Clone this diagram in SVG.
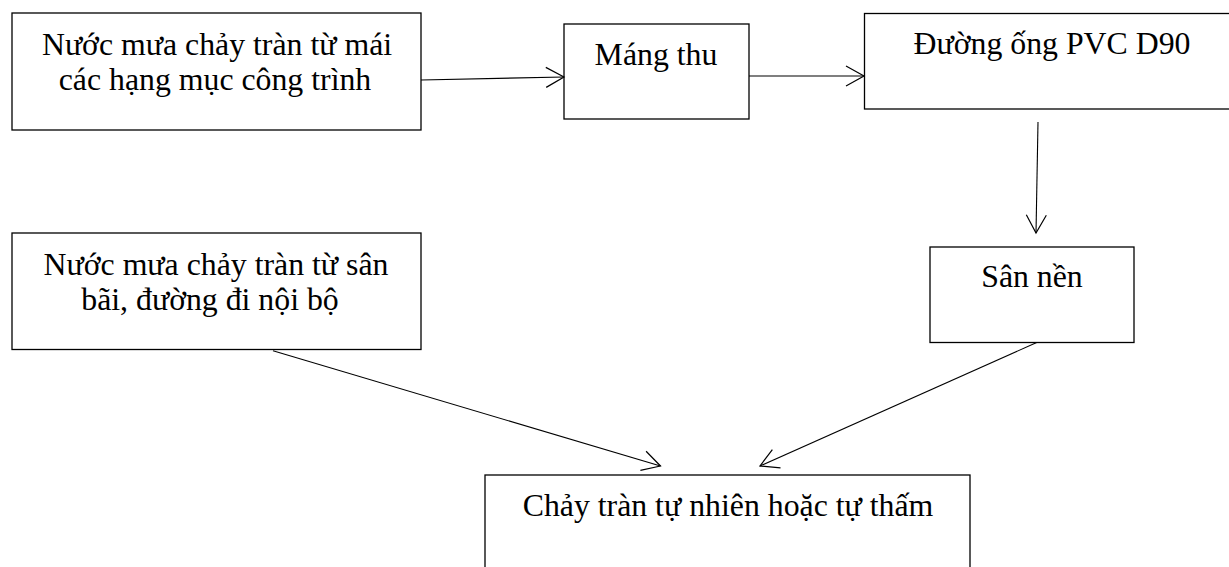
<svg xmlns="http://www.w3.org/2000/svg" width="1229" height="567" viewBox="0 0 1229 567">
<style>
.box{fill:#fff;stroke:#000;stroke-width:1.3}
.lbl{font-family:"Liberation Serif","Times New Roman",serif;font-size:31.8px;fill:#000;text-anchor:middle}
.con{stroke:#000;stroke-width:1.1;fill:none;marker-end:url(#arr)}
</style>
<defs>
<marker id="arr" markerUnits="userSpaceOnUse" markerWidth="24" markerHeight="24" viewBox="-20 -12 22 24" refX="0" refY="0" orient="auto">
<path d="M-18,-10 L0,0 L-18,10" fill="none" stroke="#000" stroke-width="1.2"/>
</marker>
</defs>
<rect width="1229" height="567" fill="#fff"/>
<g id="node-mai">
<rect class="box" x="12" y="13" width="409" height="117"/>
<text class="lbl" x="217" y="54.5">Nước mưa chảy tràn từ mái</text>
<text class="lbl" x="215" y="89.5">các hạng mục công trình</text>
</g>
<g id="node-mang">
<rect class="box" x="564" y="24" width="185" height="95"/>
<text class="lbl" x="656" y="65">Máng thu</text>
</g>
<g id="node-ong">
<rect class="box" x="864.5" y="13.5" width="370" height="95.5"/>
<text class="lbl" x="1052" y="54">Đường ống PVC D90</text>
</g>
<g id="node-san">
<rect class="box" x="930" y="247" width="204" height="95.5"/>
<text class="lbl" x="1032" y="286.5">Sân nền</text>
</g>
<g id="node-sanbai">
<rect class="box" x="12" y="233" width="409" height="116.5"/>
<text class="lbl" x="216" y="275">Nước mưa chảy tràn từ sân</text>
<text class="lbl" x="210" y="309.5">bãi, đường đi nội bộ</text>
</g>
<g id="node-tham">
<rect class="box" x="485" y="475" width="485" height="110"/>
<text class="lbl" x="728" y="516">Chảy tràn tự nhiên hoặc tự thấm</text>
</g>
<g id="connectors">
<line class="con" x1="421" y1="80" x2="564" y2="77"/>
<line class="con" x1="749" y1="76" x2="864" y2="76"/>
<line class="con" x1="1038" y1="122" x2="1036" y2="233"/>
<line class="con" x1="273" y1="350.7" x2="660.5" y2="466"/>
<line class="con" x1="1036.7" y1="342.5" x2="760" y2="466"/>
</g>
</svg>
